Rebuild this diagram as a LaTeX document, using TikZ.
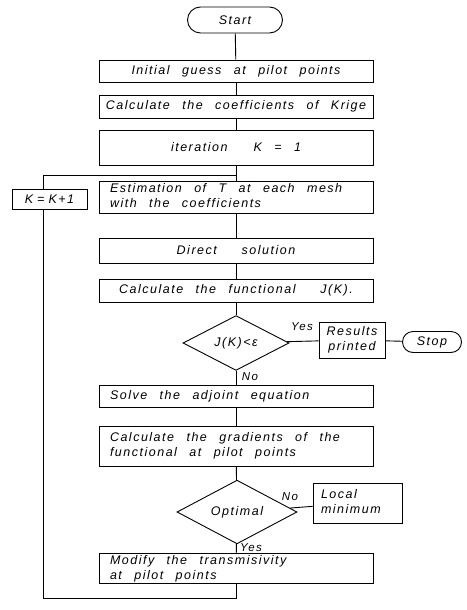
\documentclass[tikz,border=0pt]{standalone}
\usepackage{fontspec}
\setmainfont{Liberation Sans}
\newfontfamily\lettr{Liberation Sans}[LetterSpace=12,WordSpace=2.5]
\usetikzlibrary{shapes.geometric,shapes.misc}
\newcommand\lefttext[1]{\makebox[252pt][l]{\begin{tabular}{@{}l@{}}#1\end{tabular}}}
\begin{document}
\begin{tikzpicture}[x=1pt,y=-1pt,line width=0.9pt,
  lbl/.style={font=\lettr\itshape\fontsize{12.5}{15}\selectfont},
  mainbox/.style={draw,rectangle,lbl,minimum width=274pt,inner sep=0pt},
  term/.style={draw,rounded rectangle,lbl,inner sep=0pt},
  decision/.style={draw,diamond,lbl,inner sep=0pt},
  sidebox/.style={draw,rectangle,lbl,inner sep=0pt},
  tag/.style={lbl,font=\lettr\itshape\fontsize{11.5}{14}\selectfont,inner sep=1pt}]
\useasboundingbox (0,0) rectangle (466,610);

\node[term,minimum width=95pt,minimum height=26pt] (start) at (235,20) {Start};
\node[mainbox,minimum height=22pt] (init) at (236,71) {Initial guess at pilot points};
\node[mainbox,minimum height=23pt] (coef) at (236,106.5) {Calculate the coefficients of Krige};
\node[mainbox,minimum height=35pt] (iter) at (236,147.5) {iteration\hspace{26pt}K = 1};
\node[mainbox,minimum height=32pt] (est) at (236,197) {\lefttext{Estimation of T at each mesh\\with the coefficients}};
\node[mainbox,minimum height=25pt] (direct) at (236,250.5) {Direct \ solution};
\node[mainbox,minimum height=23pt] (calcJ) at (236,290.5) {Calculate the functional \ J(K).};
\node[decision,minimum width=106pt,minimum height=48pt] (dec1) at (236,343) {J(K)<ε};
\node[sidebox,minimum width=66pt,minimum height=36pt] (res) at (352,340) {\begin{tabular}{@{}c@{}}Results\\printed\end{tabular}};
\node[term,minimum width=59pt,minimum height=21pt] (stop) at (432,342) {Stop};
\node[mainbox,minimum height=22pt] (adj) at (236,396) {\lefttext{Solve the adjoint equation}};
\node[mainbox,minimum height=40pt] (grad) at (236,446) {\lefttext{Calculate the gradients of the\\functional at pilot points}};
\node[decision,minimum width=120pt,minimum height=52pt] (opt) at (237,512) {Optimal};
\node[sidebox,minimum width=89pt,minimum height=40pt] (locmin) at (357.5,503) {\makebox[73pt][l]{\begin{tabular}{@{}l@{}}Local\\minimum\end{tabular}}};
\node[mainbox,minimum height=29pt] (modify) at (236,568.5) {\lefttext{Modify the transmisivity\\at pilot points}};

\node[tag] (yes1) at (302,327) {Yes};
\node[tag] (no1) at (250,377) {No};
\node[tag] (no2) at (290,497) {No};
\node[tag] (yes2) at (251,548) {Yes};

\coordinate (b1) at (236,598);
\coordinate (b2) at (43,598);
\coordinate (b3) at (43,175);
\coordinate (jn) at (236,175);

\draw (start) -- (init);
\draw (init) -- (coef);
\draw (coef) -- (iter);
\draw (iter) -- (est);
\draw (est) -- (direct);
\draw (direct) -- (calcJ);
\draw (calcJ) -- (dec1);
\draw (dec1) -- (adj);
\draw (adj) -- (grad);
\draw (grad) -- (opt);
\draw (opt) -- (modify);
\draw (dec1) -- (res);
\draw (res) -- (stop);
\draw (opt) -- (locmin);
\draw (modify.south) -- (b1) -- (b2) -- (b3) -- (jn);

\node[sidebox,fill=white,minimum width=75pt,minimum height=20pt] (kbox) at (49.5,199) {K\hspace{4pt}=\hspace{4pt}K+1};
\end{tikzpicture}
\end{document}
